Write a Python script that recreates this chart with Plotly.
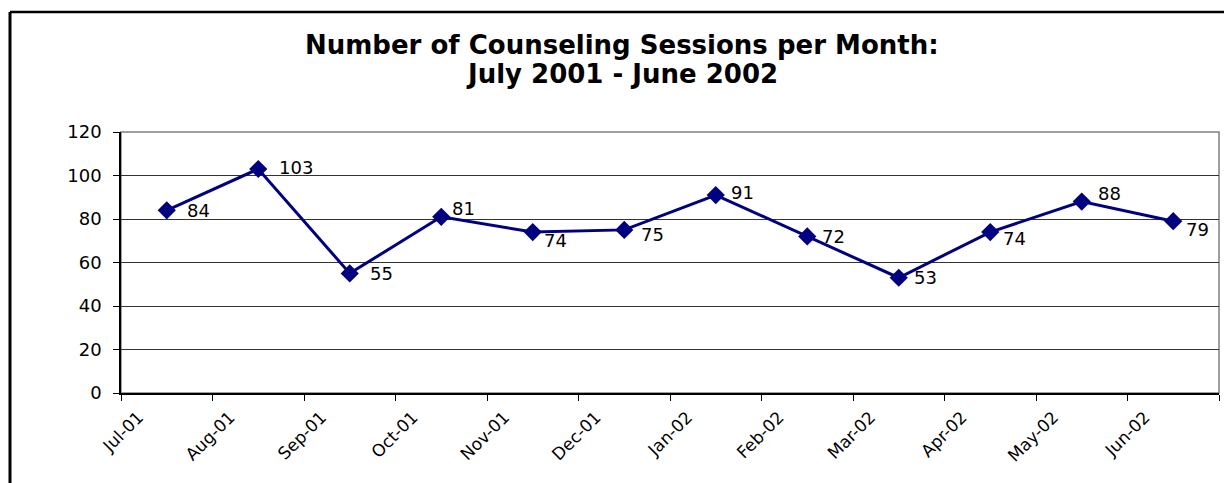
import plotly.graph_objects as go

months = ["Jul-01", "Aug-01", "Sep-01", "Oct-01", "Nov-01", "Dec-01",
          "Jan-02", "Feb-02", "Mar-02", "Apr-02", "May-02", "Jun-02"]
sessions = [84, 103, 55, 81, 74, 75, 91, 72, 53, 74, 88, 79]
y_ticks = [0, 20, 40, 60, 80, 100, 120]
title_lines = ["Number of Counseling Sessions per Month:", "July 2001 - June 2002"]

# label placement (style only, in pixels)
label_dx = [19, 20, 19, 10, 10, 16, 14, 14, 14, 12, 15, 12]
label_dy = [0, -1, 0, -8, 8, 5, -3, 0, 0, 6, -8, 8]

W, H = 1224, 483
L, R, T, B = 121, 5, 132, 90
pw, ph = W - L - R, H - T - B
FONT = "DejaVu Sans, Liberation Sans, Arial"
LABEL_SHIFT = 0.19  # category-label offset from tick, in category units

xs = [i + 0.5 for i in range(len(months))]

fig = go.Figure()
fig.add_trace(go.Scatter(
    x=xs, y=sessions, mode="lines+markers",
    line=dict(color="#000080", width=3),
    marker=dict(symbol="diamond", size=14, color="#000080"),
    cliponaxis=False, hoverinfo="skip", showlegend=False,
))
# invisible trace to host the label axis
fig.add_trace(go.Scatter(x=[0, 12], y=[0, 0], xaxis="x2", mode="lines",
                         line=dict(width=0), hoverinfo="skip", showlegend=False))

annotations = []
for x, v, dx, dy in zip(xs, sessions, label_dx, label_dy):
    annotations.append(dict(
        x=x, y=v, xref="x", yref="y", text=str(v), showarrow=False,
        xanchor="left", yanchor="middle", xshift=dx - 1, yshift=-dy,
        font=dict(family=FONT, size=18, color="black"),
    ))
for line, py in zip(title_lines, [45, 74]):
    annotations.append(dict(
        x=(622 - L) / pw, y=1 + (T - py) / ph, xref="paper", yref="paper",
        text="<b>" + line + "</b>", showarrow=False,
        xanchor="center", yanchor="middle",
        font=dict(family=FONT, size=26, color="black"),
    ))

fig.update_layout(
    width=W, height=H, margin=dict(l=L, r=R, t=T, b=B),
    paper_bgcolor="white", plot_bgcolor="white",
    font=dict(family=FONT, color="black"),
    xaxis=dict(range=[0, 12], tickvals=list(range(13)),
               showticklabels=False,
               ticks="outside", ticklen=6, tickcolor="black",
               showline=True, linecolor="black", linewidth=1.5,
               showgrid=False, zeroline=False),
    xaxis2=dict(range=[0, 12], overlaying="x", anchor="y", side="bottom",
                tickvals=[i + LABEL_SHIFT for i in range(len(months))],
                ticktext=months, tickangle=-45, ticks="",
                showline=False, showgrid=False, zeroline=False,
                ticklabelstandoff=10,
                tickfont=dict(size=17, family=FONT)),
    yaxis=dict(range=[0, 120], tickvals=y_ticks,
               ticks="outside", ticklen=6, tickcolor="black",
               showline=True, linecolor="black", linewidth=1.5,
               showgrid=True, gridcolor="#333333", gridwidth=1,
               zeroline=False, ticklabelstandoff=8,
               tickfont=dict(size=18, family=FONT)),
    annotations=annotations,
    shapes=[
        dict(type="rect", xref="paper", yref="paper", x0=0, x1=1, y0=0, y1=1,
             line=dict(color="#808080", width=1.5), layer="below"),
        dict(type="line", xref="paper", yref="paper",
             x0=(10 - L) / pw, x1=(W + 10 - L) / pw,
             y0=1 + (T - 12) / ph, y1=1 + (T - 12) / ph,
             line=dict(color="black", width=2.5)),
        dict(type="line", xref="paper", yref="paper",
             x0=(10 - L) / pw, x1=(10 - L) / pw,
             y0=1 + (T - 12) / ph, y1=-(B + 10) / ph,
             line=dict(color="black", width=3)),
    ],
)

fig.write_html("out.html")
